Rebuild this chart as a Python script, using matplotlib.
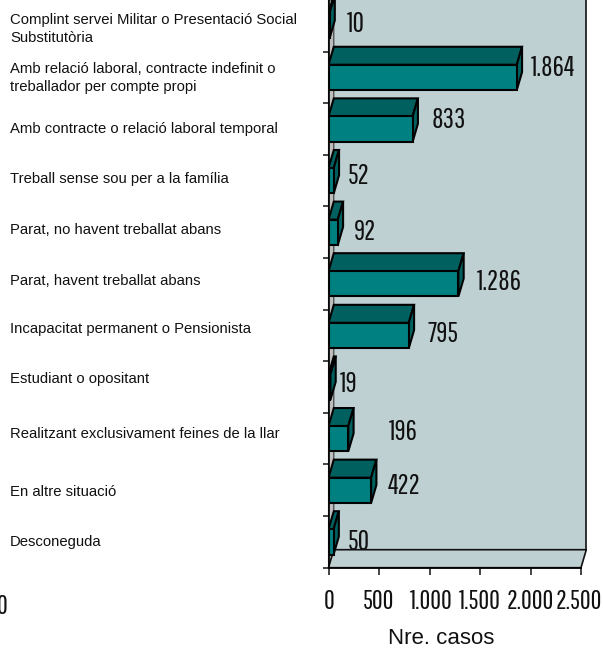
import matplotlib
matplotlib.use("Agg")
import matplotlib.pyplot as plt
from matplotlib.patches import Polygon

categories = ["Complint servei Militar o Presentació Social\nSubstitutòria",
              "Amb relació laboral, contracte indefinit o\ntreballador per compte propi",
              "Amb contracte o relació laboral temporal",
              "Treball sense sou per a la família",
              "Parat, no havent treballat abans",
              "Parat, havent treballat abans",
              "Incapacitat permanent o Pensionista",
              "Estudiant o opositant",
              "Realitzant exclusivament feines de la llar",
              "En altre situació",
              "Desconeguda"]
values = [10, 1864, 833, 52, 92, 1286, 795, 19, 196, 422, 50]
value_labels = ["10", "1.864", "833", "52", "92", "1.286", "795", "19", "196", "422", "50"]
x_ticks = [0, 500, 1000, 1500, 2000, 2500]
x_tick_labels = ["0", "500", "1.000", "1.500", "2.000", "2.500"]
label_px_y = [29, 78, 129, 179, 230, 281, 329, 379, 434, 492, 542]
value_left_px = [347, 531, 432, 348, 354, 477, 428, 340, 389, 388, 348]
value_px_y = [23.5, 68.5, 120.5, 176.5, 231.5, 282.5, 333.5, 384.5, 432.5, 485.5, 541.5]

W, H = 603, 648
fig = plt.figure(figsize=(W/100, H/100), dpi=100, facecolor="white")
x0, x1, yb = 328.5, 581.0, 567.7
ax = fig.add_axes([x0/W, 1-yb/H, (x1-x0)/W, yb/H])
ax.patch.set_visible(False)
n = len(categories)
ax.set_xlim(0, 2500)
ax.set_ylim(-0.5, n-0.5)
ypos = [n-1-i for i in range(n)]

ppx = 2500/(x1-x0)
ppy = n/yb
dx, dy = 5.3*ppx, 18*ppy
WALL = "#BFD0D3"
top = n-0.5
ax.add_patch(Polygon([(dx, -0.5+dy), (2500+dx, -0.5+dy), (2500+dx, top), (dx, top)],
                     fc=WALL, ec="none", clip_on=False, zorder=1))
ax.add_patch(Polygon([(0, -0.5), (dx, -0.5+dy), (dx, top), (0, top)],
                     fc="#BDBDBD", ec="#333333", lw=0.8, clip_on=False, zorder=1.1))
ax.add_patch(Polygon([(0, -0.5), (2500, -0.5), (2500+dx, -0.5+dy), (dx, -0.5+dy)],
                     fc=WALL, ec="#111111", lw=1.2, clip_on=False, zorder=1.2))
ax.plot([2500+dx, 2500+dx], [-0.5+dy, top], color="#111111", lw=1.2, clip_on=False, zorder=1.3)

h = 0.49
for i, (y, v) in enumerate(zip(ypos, values)):
    z = 2 + i*0.1
    b, t = y-h/2, y+h/2
    ax.add_patch(Polygon([(0, t), (v, t), (v+dx, t+dy), (dx, t+dy)], fc="#006060", ec="black", lw=1.5, zorder=z, clip_on=True))
    ax.add_patch(Polygon([(v, b), (v+dx, b+dy), (v+dx, t+dy), (v, t)], fc="#006060", ec="black", lw=1.5, zorder=z))
    ax.barh(y, v, height=h, color="#008080", edgecolor="black", linewidth=1.5, zorder=z+0.01)

for s in ["top", "right"]:
    ax.spines[s].set_visible(False)
ax.spines["left"].set_linewidth(1.2)
ax.spines["bottom"].set_linewidth(1.2)
ax.spines["left"].set_zorder(5)
ax.set_yticks([k-0.5 for k in range(n)])
ax.set_yticklabels([])
ax.tick_params(axis="y", length=4.5, width=1.1, color="#111111")
ax.set_xticks(x_ticks)
ax.set_xticklabels([])
ax.tick_params(axis="x", length=5, width=1.1, color="#111111")

NARROW = ["Pathway Gothic One", "Liberation Sans"]
for c, py in zip(categories, label_px_y):
    fig.text(10/W, 1-py/H, c, family="Liberation Sans", fontsize=10.7, va="center", ha="left",
             linespacing=1.3, color="#111111")
for s, px, py in zip(value_labels, value_left_px, value_px_y):
    fig.text(px/W, 1-py/H, s, family=NARROW, fontsize=20, va="center", ha="left", color="#111111", zorder=10)
tick_centres = [329, 379, 431, 480, 530, 579]
for s, px in zip(x_tick_labels, tick_centres):
    fig.text(px/W, 1-601.5/H, s, family=NARROW, fontsize=19, va="center", ha="center", color="#111111")
fig.text(441.5/W, 1-638.5/H, "Nre. casos", family="Liberation Sans", fontsize=16, va="center", ha="center", color="#111111")
fig.text(8/W, 1-606/H, "0", family=NARROW, fontsize=19, va="center", ha="right", color="#111111")
fig.savefig("out.png", dpi=100)
